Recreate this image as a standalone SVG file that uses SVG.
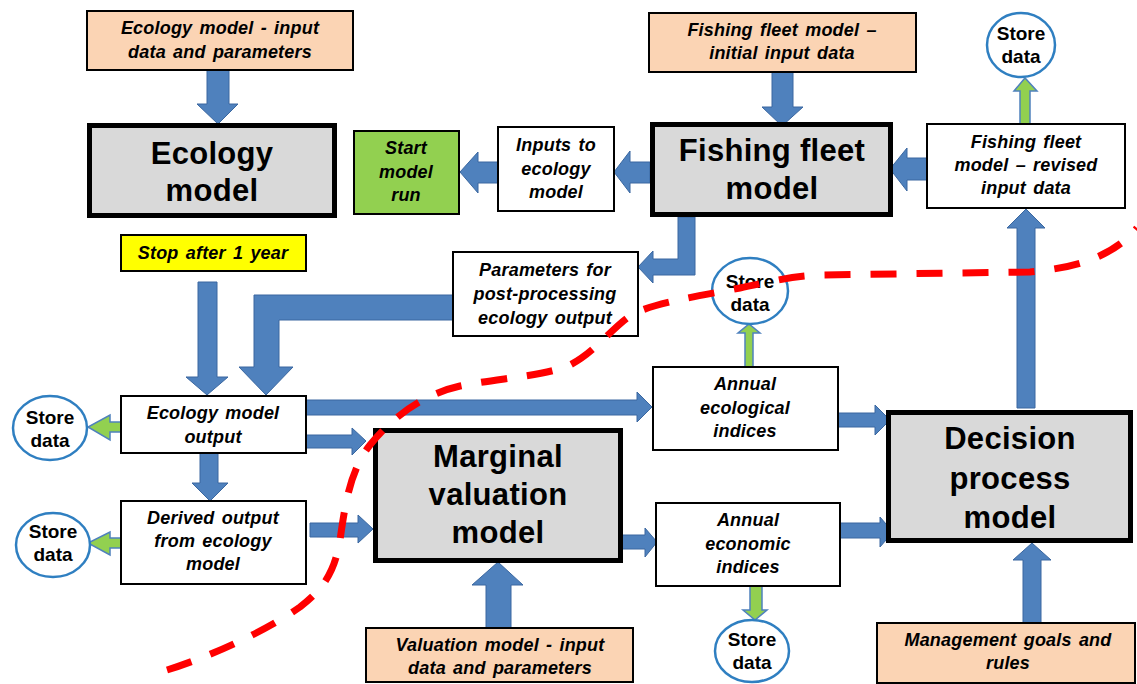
<svg xmlns="http://www.w3.org/2000/svg" width="1137" height="684" viewBox="0 0 1137 684">
  <style>
    .box { fill: #ffffff; stroke: #000000; stroke-width: 2; }
    .inp { fill: #FBD4B4; stroke: #000000; stroke-width: 2; }
    .model { fill: #D9D9D9; stroke: #000000; stroke-width: 5; }
    .store { fill: #ffffff; stroke: #2F7FC1; stroke-width: 2.5; }
    .lbl { font-family: "Liberation Sans", Arial, sans-serif; font-size: 18px; font-weight: bold; font-style: italic; fill: #000; text-anchor: middle; word-spacing: 2px; letter-spacing: 0.2px; }
    .big { font-family: "Liberation Sans", Arial, sans-serif; font-size: 31px; font-weight: bold; fill: #000; text-anchor: middle; letter-spacing: 0.3px; }
    .st { font-family: "Liberation Sans", Arial, sans-serif; font-size: 19px; font-weight: bold; fill: #000; text-anchor: middle; }
    .ab { fill: #4F81BD; stroke: #3A67A0; stroke-width: 1; stroke-linejoin: miter; }
    .ag { fill: #92D050; stroke: #4F81BD; stroke-width: 1.5; }
    .bound { fill: none; stroke: #FF0000; stroke-width: 7; stroke-dasharray: 26 20; }
  </style>

  <rect width="1137" height="684" fill="#ffffff"/>

  <!-- connectors -->
  <g id="connectors">
    <polygon class="ab" points="207,70 229,70 229,104 238,104 218,124 197,104 207,104"/>
    <polygon class="ab" points="772,72 793,72 793,107 803,107 782,126 762,107 772,107"/>
    <polygon class="ab" points="650,162 650,183 630,183 630,193 614,172 630,151 630,162"/>
    <polygon class="ab" points="498,162 498,183 478,183 478,193 460,172 478,152 478,162"/>
    <polygon class="ab" points="927,158 927,180 907,180 907,191 890,169 907,148 907,158"/>
    <polygon class="ag" points="1020,124 1030,124 1030,91 1037,91 1025,78 1014,91 1020,91"/>
    <polygon class="ab" points="1017,408 1035,408 1035,228 1045,228 1026,209 1007,228 1017,228"/>
    <polygon class="ab" points="678,217 695,217 695,275 653,275 653,283 638,267 653,251 653,259 678,259"/>
    <polygon class="ab" points="453,295 453,320 279,320 279,367 293,367 266,395 239,367 254,367 254,295"/>
    <polygon class="ab" points="198,282 217,282 217,377 228,377 207,395 186,377 198,377"/>
    <polygon class="ag" points="121,422 121,432 110,432 110,440 88,427 110,415 110,422"/>
    <polygon class="ab" points="306,400 637,400 637,392 652,407 637,422 637,415 306,415"/>
    <polygon class="ab" points="306,435 352,435 352,428 366,441 352,455 352,448 306,448"/>
    <polygon class="ab" points="200,453 218,453 218,483 228,483 210,501 192,483 200,483"/>
    <polygon class="ag" points="121,538 121,548 110,548 110,555 88,543 110,532 110,538"/>
    <polygon class="ab" points="310,523 358,523 358,515 373,529 358,543 358,537 310,537"/>
    <polygon class="ab" points="622,535 645,535 645,528 657,542 645,557 645,549 622,549"/>
    <polygon class="ab" points="486,628 511,628 511,585 523,585 498,562 472,585 486,585"/>
    <polygon class="ag" points="750,586 762,586 762,610 767,610 755,620 743,610 750,610"/>
    <polygon class="ag" points="745,367 753,367 753,333 760,333 749,324 738,333 745,333"/>
    <polygon class="ab" points="838,413 875,413 875,405 890,420 875,435 875,427 838,427"/>
    <polygon class="ab" points="840,523 880,523 880,517 893,532 880,547 880,538 840,538"/>
    <polygon class="ab" points="1023,623 1041,623 1041,560 1051,560 1032,543 1013,560 1023,560"/>
  </g>

  <!-- input data boxes -->
  <g id="eco-input">
    <rect class="inp" x="87" y="11" width="266" height="59"/>
    <text class="lbl" x="220" y="34">Ecology model - input</text>
    <text class="lbl" x="220" y="58">data and parameters</text>
  </g>
  <g id="fleet-input">
    <rect class="inp" x="649" y="13" width="267" height="59"/>
    <text class="lbl" x="782" y="36">Fishing fleet model –</text>
    <text class="lbl" x="782" y="59">initial input data</text>
  </g>
  <g id="valuation-input">
    <rect class="inp" x="366" y="628" width="267" height="54"/>
    <text class="lbl" x="500" y="651">Valuation model - input</text>
    <text class="lbl" x="500" y="674">data and parameters</text>
  </g>
  <g id="management-input">
    <rect class="inp" x="877" y="623" width="258" height="60"/>
    <text class="lbl" x="1008" y="646">Management goals and</text>
    <text class="lbl" x="1008" y="669">rules</text>
  </g>

  <!-- models -->
  <g id="ecology-model">
    <rect class="model" x="89.5" y="125.5" width="245" height="90"/>
    <text class="big" x="212" y="164">Ecology</text>
    <text class="big" x="212" y="201">model</text>
  </g>
  <g id="fleet-model">
    <rect class="model" x="652.5" y="124.5" width="238" height="90"/>
    <text class="big" x="772" y="161">Fishing fleet</text>
    <text class="big" x="772" y="199">model</text>
  </g>
  <g id="marginal-model">
    <rect class="model" x="375.5" y="430.5" width="245" height="130"/>
    <text class="big" x="498" y="467">Marginal</text>
    <text class="big" x="498" y="505">valuation</text>
    <text class="big" x="498" y="543">model</text>
  </g>
  <g id="decision-model">
    <rect class="model" x="888.5" y="412.5" width="242" height="128"/>
    <text class="big" x="1010" y="449">Decision</text>
    <text class="big" x="1010" y="489">process</text>
    <text class="big" x="1010" y="528">model</text>
  </g>

  <!-- control boxes -->
  <g id="start-run">
    <rect x="354" y="131" width="105" height="83" fill="#92D050" stroke="#000" stroke-width="2"/>
    <text class="lbl" x="406" y="154" fill="#111">Start</text>
    <text class="lbl" x="406" y="178" fill="#111">model</text>
    <text class="lbl" x="406" y="201" fill="#111">run</text>
  </g>
  <g id="stop-year">
    <rect x="121" y="235" width="185" height="36" fill="#FFFF00" stroke="#000" stroke-width="2"/>
    <text class="lbl" x="213" y="259">Stop after 1 year</text>
  </g>

  <!-- intermediate data boxes -->
  <g id="eco-inputs">
    <rect class="box" x="498" y="127" width="116" height="84"/>
    <text class="lbl" x="556" y="151">Inputs to</text>
    <text class="lbl" x="556" y="175">ecology</text>
    <text class="lbl" x="556" y="198">model</text>
  </g>
  <g id="fleet-revised">
    <rect class="box" x="927" y="124" width="198" height="84"/>
    <text class="lbl" x="1026" y="148">Fishing fleet</text>
    <text class="lbl" x="1026" y="171">model – revised</text>
    <text class="lbl" x="1026" y="194">input data</text>
  </g>
  <g id="post-params">
    <rect class="box" x="453" y="252" width="185" height="84"/>
    <text class="lbl" x="545" y="276">Parameters for</text>
    <text class="lbl" x="545" y="300">post-processing</text>
    <text class="lbl" x="545" y="324">ecology output</text>
  </g>
  <g id="eco-output">
    <rect class="box" x="121" y="396" width="185" height="57"/>
    <text class="lbl" x="213" y="419">Ecology model</text>
    <text class="lbl" x="213" y="443">output</text>
  </g>
  <g id="derived-output">
    <rect class="box" x="121" y="501" width="185" height="83"/>
    <text class="lbl" x="213" y="524">Derived output</text>
    <text class="lbl" x="213" y="547">from ecology</text>
    <text class="lbl" x="213" y="570">model</text>
  </g>
  <g id="eco-indices">
    <rect class="box" x="653" y="367" width="185" height="83"/>
    <text class="lbl" x="745" y="390">Annual</text>
    <text class="lbl" x="745" y="414">ecological</text>
    <text class="lbl" x="745" y="437">indices</text>
  </g>
  <g id="econ-indices">
    <rect class="box" x="656" y="503" width="184" height="83"/>
    <text class="lbl" x="748" y="526">Annual</text>
    <text class="lbl" x="748" y="550">economic</text>
    <text class="lbl" x="748" y="573">indices</text>
  </g>

  <!-- data stores -->
  <g id="store-fleet">
    <ellipse class="store" cx="1021" cy="45" rx="34" ry="32"/>
    <text class="st" x="1021" y="40">Store</text>
    <text class="st" x="1021" y="63">data</text>
  </g>
  <g id="store-eco-indices">
    <ellipse class="store" cx="750" cy="291" rx="38" ry="33"/>
    <text class="st" x="750" y="288">Store</text>
    <text class="st" x="750" y="311">data</text>
  </g>
  <g id="store-eco-output">
    <ellipse class="store" cx="50" cy="428" rx="37" ry="32"/>
    <text class="st" x="50" y="424">Store</text>
    <text class="st" x="50" y="447">data</text>
  </g>
  <g id="store-derived">
    <ellipse class="store" cx="53" cy="545" rx="37" ry="32"/>
    <text class="st" x="53" y="538">Store</text>
    <text class="st" x="53" y="561">data</text>
  </g>
  <g id="store-econ-indices">
    <ellipse class="store" cx="752" cy="651" rx="37" ry="31"/>
    <text class="st" x="752" y="646">Store</text>
    <text class="st" x="752" y="669">data</text>
  </g>

  <!-- boundary line -->
  <g id="boundary">
    <path class="bound" d="M167,670 C200,660 260,635 300,607 C325,588 335,570 340,540 C345,505 350,470 370,445 C390,420 420,395 460,386 C500,378 545,376 570,365 C595,352 610,330 630,316 C650,303 700,296 740,288 C770,282 790,276 820,275 L1030,272 C1070,268 1110,260 1137,228"/>
  </g>
</svg>
